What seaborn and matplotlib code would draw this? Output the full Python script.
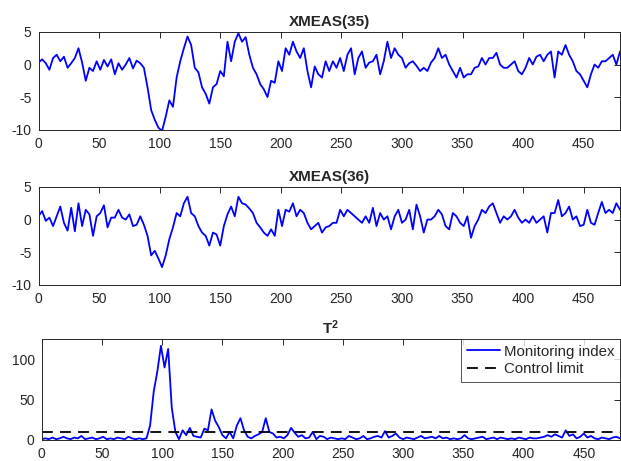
import matplotlib
matplotlib.use('Agg')
import matplotlib.pyplot as plt
import seaborn as sns
import numpy as np

# sample index (every 3rd sample)
samples = list(range(0, 481, 3))

xmeas35 = [
    0.3, 0.8, 0.2, -0.8, 1.0, 1.5, 0.5, 1.2, -0.5, 0.2,
    1.0, 2.5, 0.3, -2.5, -0.5, -1.0, 0.5, -0.8, 0.7, -0.3,
    0.8, -1.5, 0.2, -0.8, 0.0, 1.0, -0.6, 0.6, 0.2, -0.5,
    -3.5, -7.0, -8.5, -9.7, -10.2, -8.0, -5.5, -6.5, -2.0, 0.5,
    2.5, 4.3, 3.0, -0.5, -1.2, -3.5, -4.5, -6.0, -3.5, -3.0,
    -1.0, -1.8, 3.5, 0.5, 3.5, 4.8, 3.5, 4.2, 1.5, -0.5,
    -1.5, -3.0, -3.8, -5.0, -2.5, -2.8, 0.5, -1.0, 2.5, 1.5,
    3.5, 2.0, 1.0, 2.5, -1.0, -3.5, -0.3, -1.5, -2.0, 0.5,
    -1.0, 0.5, -0.5, 1.0, -1.0, 1.5, 2.5, -1.5, 1.0, 2.0,
    -0.5, 0.3, 0.5, 1.5, -1.5, 0.5, 3.5, 1.0, 2.5, 1.5,
    1.0, -0.5, 0.2, 0.5, -0.2, -1.0, -0.5, -1.0, 0.3, 1.0,
    2.5, 1.0, 1.5, 0.0, -1.0, -2.0, -0.5, -2.0, -1.5, -1.5,
    -0.5, -0.3, 1.0, 0.0, 1.0, 1.0, 1.8, 0.0, -0.5, -0.5,
    0.0, 0.5, -1.0, -1.5, -0.5, 1.0, 0.0, 1.2, 1.5, 0.5,
    1.5, 2.0, -2.0, 2.0, 1.5, 3.0, 1.5, 0.5, -1.0, -1.5,
    -2.5, -3.5, -1.5, 0.0, -0.5, 0.5, 0.5, 1.0, 1.5, 0.0,
    2.0,
]

xmeas36 = [
    0.5, 1.3, -0.2, 0.3, -1.0, 0.5, 2.0, -0.5, -1.7, 1.8,
    -1.8, 2.5, -1.0, 1.5, 0.8, -2.5, 0.5, 1.0, 2.2, -1.2,
    0.3, 0.3, 1.5, 0.3, 0.0, 0.8, -1.0, -0.8, 0.5, -0.8,
    -2.5, -5.5, -4.8, -6.0, -7.3, -5.5, -3.0, -1.2, 1.0, 0.5,
    2.5, 3.5, 1.0, 0.5, -1.0, -2.0, -2.5, -4.0, -2.0, -2.3,
    -4.0, -1.0, 0.8, 2.0, 0.5, 3.5, 2.5, 2.3, 1.7, 1.0,
    -0.5, -1.2, -2.0, -2.5, -1.5, -2.5, 1.5, -1.0, 1.5, 1.2,
    2.5, 0.5, 1.5, 1.0, -0.5, -1.5, -1.0, -0.5, -2.0, -1.2,
    -1.0, -0.5, -0.5, 1.5, 0.5, 1.5, 1.0, 0.5, 0.0, -0.5,
    0.5, -0.5, 1.8, -1.0, 1.0, 0.0, 0.5, -1.5, 0.5, 1.5,
    -0.5, 0.0, 1.5, -1.5, 2.3, 0.5, -2.0, 0.0, 0.0, 0.5,
    1.5, 0.8, -1.0, -1.5, 1.0, 0.5, -0.5, -1.0, 0.5, -2.8,
    -1.0, 0.0, 1.5, 1.0, 2.0, 2.5, 1.0, -0.5, 0.5, 0.0,
    0.5, 1.5, 0.3, -0.5, 0.0, -0.5, 0.5, -0.5, 0.0, 0.5,
    -2.0, 1.0, 1.0, 3.0, 0.5, 1.0, 2.0, 0.0, 0.5, -1.0,
    -0.8, 1.5, -0.5, -0.8, 1.0, 2.7, 1.0, 1.5, 1.0, 2.5,
    1.5,
]

t2 = [
    1, 2, 1, 3, 1, 2, 4, 2, 1, 3,
    2, 5, 1, 2, 3, 1, 2, 4, 1, 2,
    1, 3, 2, 1, 4, 2, 1, 2, 1, 2,
    18, 60, 85, 117, 90, 113, 40, 10, 1, 12,
    6, 15, 5, 4, 3, 14, 12, 38, 24, 16,
    6, 2, 10, 2, 18, 27, 12, 4, 2, 5,
    7, 10, 27, 10, 8, 3, 4, 2, 6, 15,
    9, 4, 6, 2, 3, 10, 1, 5, 4, 1,
    3, 2, 1, 2, 1, 5, 3, 1, 2, 5,
    1, 2, 4, 5, 3, 11, 3, 5, 8, 3,
    1, 3, 2, 1, 3, 5, 2, 3, 4, 2,
    5, 2, 3, 1, 2, 1, 2, 6, 2, 1,
    2, 3, 4, 1, 2, 3, 1, 3, 2, 1,
    2, 1, 3, 2, 1, 3, 2, 2, 3, 4,
    6, 4, 7, 5, 3, 12, 5, 7, 2, 4,
    8, 3, 5, 2, 1, 3, 2, 1, 3, 4,
    2,
]
control_limit = 9.8

sns.set_theme(style='white')
plt.rcParams['font.family'] = ['Liberation Sans', 'DejaVu Sans']
plt.rcParams['axes.unicode_minus'] = False
plt.rcParams['mathtext.fontset'] = 'custom'
plt.rcParams['mathtext.bf'] = 'Liberation Sans:bold'
plt.rcParams['mathtext.rm'] = 'Liberation Sans'

edge = '#262626'
fig = plt.figure(figsize=(6.21, 4.61), dpi=100)
ax1 = fig.add_axes([0.062, 0.7187, 0.9364, 0.212])
ax2 = fig.add_axes([0.062, 0.3824, 0.9364, 0.212])
ax3 = fig.add_axes([0.0671, 0.0456, 0.9312, 0.2184])

sns.lineplot(x=samples, y=xmeas35, ax=ax1, color='blue', linewidth=1.3)
sns.lineplot(x=samples, y=xmeas36, ax=ax2, color='blue', linewidth=1.3)
sns.lineplot(x=samples, y=t2, ax=ax3, color='blue', linewidth=1.3,
             label='Monitoring index')
ax3.axhline(control_limit, color='black', linewidth=1.3,
            linestyle=(0, (6, 4)), label='Control limit')

for ax, title in [(ax1, 'XMEAS(35)'), (ax2, 'XMEAS(36)'),
                  (ax3, r'$\mathbf{T^2}$')]:
    ax.set_xlim(0, 480)
    ax.set_xticks(range(0, 451, 50))
    ax.set_title(title, fontsize=11, fontweight='bold', pad=4)
    ax.set_xlabel('')
    ax.set_ylabel('')
    ax.tick_params(direction='in', top=True, right=True, length=4,
                   width=0.7, colors=edge, labelsize=10, pad=5)
    for s in ax.spines.values():
        s.set_color(edge)
        s.set_linewidth(0.7)

for ax in (ax1, ax2):
    ax.set_ylim(-10, 5)
    ax.set_yticks([-10, -5, 0, 5])

ax3.set_ylim(0, 125)
ax3.set_yticks([0, 50, 100])
leg = ax3.legend(loc='upper right', fontsize=10.8, frameon=True, fancybox=False,
                 borderaxespad=0, handlelength=2.2, borderpad=0.35,
                 labelspacing=0.25, handletextpad=0.3)
leg.get_frame().set_edgecolor(edge)
leg.get_frame().set_linewidth(0.7)

fig.savefig('out.png', dpi=100)
